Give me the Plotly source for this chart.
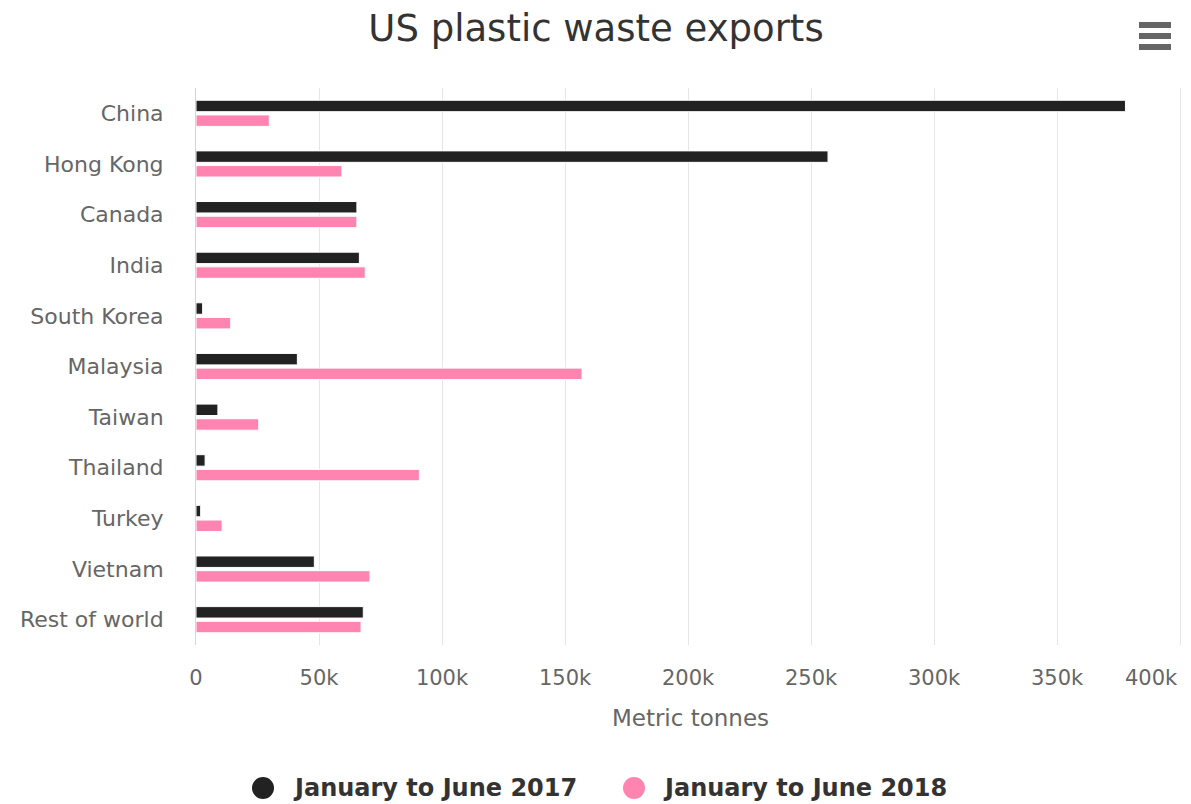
import plotly.graph_objects as go

countries = ["China", "Hong Kong", "Canada", "India", "South Korea", "Malaysia",
             "Taiwan", "Thailand", "Turkey", "Vietnam", "Rest of world"]
exports_2017 = [377.8, 256.9, 65.4, 66.4, 2.7, 41.2, 8.9, 3.7, 1.9, 48.1, 68.0]
exports_2018 = [29.8, 59.3, 65.4, 68.8, 14.1, 156.9, 25.5, 90.8, 10.6, 70.7, 67.1]
exports_2017 = [v * 1000 for v in exports_2017]
exports_2018 = [v * 1000 for v in exports_2018]
series_names = ["January to June 2017", "January to June 2018"]
colors = ["#222222", "#ff85b0"]
tick_vals = [0, 50000, 100000, 150000, 200000, 250000, 300000, 350000, 400000]
tick_text = ["0", "50k", "100k", "150k", "200k", "250k", "300k", "350k", "400k"]

FONT = "DejaVu Sans"
W, H = 1191, 804
L, R, T, B = 196, 6, 88, 159
X_MAX = 402000
PW, PH = W - L - R, H - T - B


def px(x):
    return (x - L) / PW


def py(y):
    return (H - B - y) / PH


fig = go.Figure()
for name, vals, col in zip(series_names, [exports_2017, exports_2018], colors):
    fig.add_trace(go.Bar(
        y=countries, x=vals, orientation="h", name=name,
        marker=dict(color=col, line=dict(color="white", width=1)),
        showlegend=False,
    ))

# last tick label is shifted inside the chart (as the original does)
shown_text = tick_text[:-1] + [""]

fig.update_layout(
    width=W, height=H,
    margin=dict(l=L, r=R, t=T, b=B, autoexpand=False),
    paper_bgcolor="white", plot_bgcolor="white",
    barmode="group", bargap=0.42, bargroupgap=0.22,
    showlegend=False,
    title=dict(text="US plastic waste exports", x=596 / W, xanchor="center",
               xref="container", y=1 - 28 / H, yanchor="middle", yref="container",
               font=dict(family=FONT, size=37, color="#333333")),
    font=dict(family=FONT, color="#666666"),
    xaxis=dict(range=[0, X_MAX], tickvals=tick_vals, ticktext=shown_text,
               showgrid=True, gridcolor="#e6e6e6", gridwidth=1,
               zeroline=False, showline=False, automargin=False, tickangle=0,
               ticks="outside", ticklen=14, tickcolor="rgba(0,0,0,0)",
               tickfont=dict(family=FONT, size=21, color="#666666"),
               title=dict(text="Metric tonnes", standoff=20,
                          font=dict(family=FONT, size=23, color="#666666"))),
    yaxis=dict(autorange="reversed", showgrid=False, zeroline=False,
               showline=True, linecolor="#ccd6eb", linewidth=1, automargin=False,
               ticks="outside", ticklen=27, tickcolor="rgba(0,0,0,0)",
               tickfont=dict(family=FONT, size=22, color="#666666")),
)

fig.add_annotation(text=tick_text[-1], xref="x", yref="paper",
                   x=tick_vals[-1], y=py(678), xanchor="right", yanchor="middle",
                   showarrow=False,
                   font=dict(family=FONT, size=21, color="#666666"))

# legend drawn as circles + text
legend_items = [(263, 291), (634, 661)]
for (cx, tx), name, col in zip(legend_items, series_names, colors):
    fig.add_shape(type="circle", xref="paper", yref="paper",
                  xsizemode="pixel", ysizemode="pixel",
                  xanchor=px(cx), yanchor=py(788),
                  x0=-11, x1=11, y0=-11, y1=11,
                  fillcolor=col, line=dict(width=0))
    fig.add_annotation(text="<b>" + name + "</b>", xref="paper", yref="paper",
                       x=px(tx), y=py(788), xanchor="left", yanchor="middle",
                       showarrow=False,
                       font=dict(family=FONT, size=24, color="#333333"))

# export-menu (hamburger) icon
for yy in [25, 36, 47]:
    fig.add_shape(type="line", xref="paper", yref="paper",
                  x0=px(1139), x1=px(1171), y0=py(yy), y1=py(yy),
                  line=dict(color="#666666", width=6))

fig.write_html("out.html")
